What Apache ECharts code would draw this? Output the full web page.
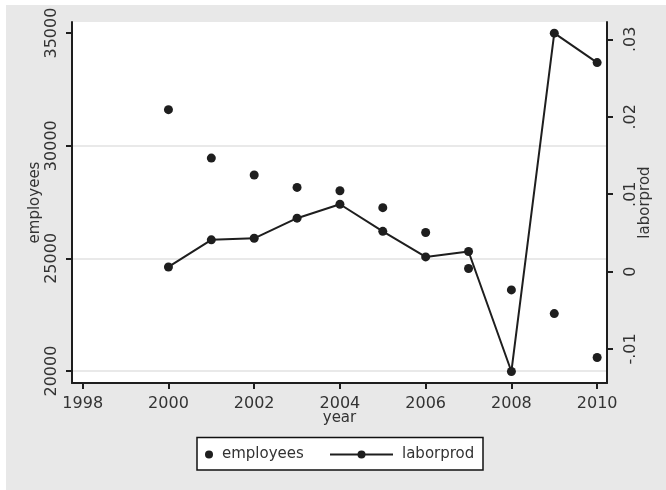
<!DOCTYPE html>
<html>
<head>
<meta charset="utf-8">
<script src="https://cdn.jsdelivr.net/npm/echarts@6/dist/echarts.min.js"></script>
<style>
html,body{margin:0;padding:0;background:#fff;}
#chart{width:666px;height:490px;}
</style>
</head>
<body>
<div id="chart"></div>
<script>
var years = [2000, 2001, 2002, 2003, 2004, 2005, 2006, 2007, 2008, 2009, 2010];
var employees = [31600, 29450, 28700, 28150, 28000, 27250, 26150, 24550, 23600, 22550, 20600];
var laborprod = [0.0006, 0.0041, 0.0043, 0.0069, 0.0087, 0.0052, 0.0019, 0.0026, -0.0129, 0.0308, 0.0270];
var xTicks = [1998, 2000, 2002, 2004, 2006, 2008, 2010];
var leftTicks = [20000, 25000, 30000, 35000];
var leftGrid = [20000, 25000, 30000];
var rightTicks = [-0.01, 0, 0.01, 0.02, 0.03];
var rightTickLabels = ['-.01', '0', '.01', '.02', '.03'];

var font = 'DejaVu Sans';
var ink = '#1e1e1e';
var textCol = '#333333';

var chart = echarts.init(document.getElementById('chart'), null, {renderer: 'canvas'});

function pairs(xs, ys) { return xs.map(function (x, i) { return [x, ys[i]]; }); }

chart.setOption({
  backgroundColor: '#ffffff',
  animation: false,
  graphic: [
    {type: 'rect', z: -10, shape: {x: 6, y: 5, width: 660, height: 485}, style: {fill: '#e8e8e8'}},
    {type: 'rect', z: 1, shape: {x: 197, y: 437.5, width: 286, height: 32.5},
     style: {fill: '#ffffff', stroke: '#111111', lineWidth: 1.5}}
  ],
  grid: {left: 72, right: 59, top: 22, bottom: 107, show: true, backgroundColor: '#ffffff', borderWidth: 0},
  legend: [
    {data: [{name: 'employees', icon: 'circle'}], left: 200, top: 442, itemWidth: 8, itemHeight: 8,
     textStyle: {fontFamily: font, fontSize: 15, color: textCol, padding: [0, 0, 0, 4]}},
    {data: ['laborprod'], left: 324, top: 442, itemWidth: 63, itemHeight: 10,
     textStyle: {fontFamily: font, fontSize: 15, color: textCol, padding: [0, 0, 0, 4]}}
  ],
  xAxis: {
    type: 'value', min: 1997.75, max: 2010.23,
    name: 'year', nameLocation: 'middle', nameGap: 28, nameMoveOverlap: false,
    nameTextStyle: {fontFamily: font, fontSize: 15, color: textCol},
    axisLine: {onZero: false, lineStyle: {color: ink, width: 2}},
    axisTick: {customValues: xTicks, length: 6, lineStyle: {color: ink, width: 2}},
    axisLabel: {customValues: xTicks, margin: 13, fontFamily: font, fontSize: 16, color: textCol,
      formatter: function (v) { return String(v); }},
    splitLine: {show: false}
  },
  yAxis: [
    {
      type: 'value', position: 'left', min: 19470, max: 35490,
      name: 'employees', nameLocation: 'middle', nameGap: 29, nameMoveOverlap: false,
      nameTextStyle: {fontFamily: font, fontSize: 15, color: textCol},
      axisLine: {show: true, onZero: false, lineStyle: {color: ink, width: 2}},
      axisTick: {show: true, customValues: leftTicks, length: 6, lineStyle: {color: ink, width: 2}},
      axisLabel: {customValues: leftTicks, rotate: 90, margin: 12, fontFamily: font, fontSize: 16, color: textCol,
        formatter: function (v) { return String(v); }},
      splitLine: {show: false}
    },
    {
      type: 'value', position: 'right', min: -0.01439, max: 0.03224,
      name: 'laborprod', nameLocation: 'middle', nameGap: 31, nameMoveOverlap: false,
      nameTextStyle: {fontFamily: font, fontSize: 15, color: textCol},
      axisLine: {show: true, onZero: false, lineStyle: {color: ink, width: 2}},
      axisTick: {show: true, customValues: rightTicks, length: 6, lineStyle: {color: ink, width: 2}},
      axisLabel: {customValues: rightTicks, rotate: 90, margin: 16, fontFamily: font, fontSize: 16, color: textCol,
        formatter: function (v) {
          var i = rightTicks.findIndex(function (t) { return Math.abs(t - v) < 1e-9; });
          return i >= 0 ? rightTickLabels[i] : '';
        }},
      splitLine: {show: false}
    }
  ],
  series: [
    {
      name: 'employees', type: 'scatter', yAxisIndex: 0, symbol: 'circle', symbolSize: 9,
      itemStyle: {color: ink, opacity: 1},
      data: pairs(years, employees),
      markLine: {
        silent: true, symbol: 'none', label: {show: false}, z: 0,
        lineStyle: {color: '#e2e2e2', width: 1.5, type: 'solid'},
        data: leftGrid.map(function (v) { return {yAxis: v}; })
      }
    },
    {
      name: 'laborprod', type: 'line', yAxisIndex: 1, symbol: 'circle', symbolSize: 9, showSymbol: true,
      itemStyle: {color: ink}, lineStyle: {color: ink, width: 2},
      data: pairs(years, laborprod)
    }
  ]
});
</script>
</body>
</html>
